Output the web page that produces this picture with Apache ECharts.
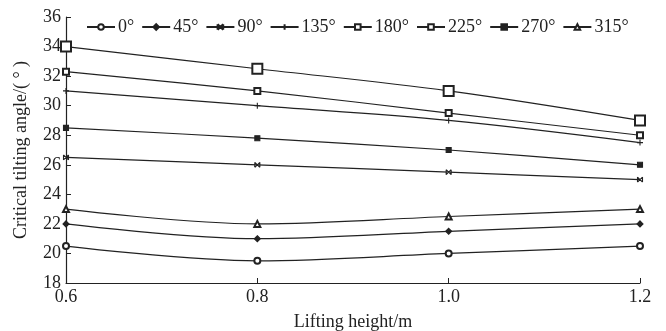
<!DOCTYPE html>
<html>
<head>
<meta charset="utf-8">
<script src="https://cdn.jsdelivr.net/npm/echarts@6/dist/echarts.min.js"></script>
<style>
  html, body { margin: 0; padding: 0; background: #fff; }
  #chart { width: 666px; height: 331px; }
</style>
</head>
<body>
<div id="chart"></div>
<script>
const heights = ['0.6', '0.8', '1.0', '1.2']
const names = ['0°', '45°', '90°', '135°', '180°', '225°', '270°', '315°']
const deg0 = [20.5, 19.5, 20.0, 20.5]
const deg45 = [22.0, 21.0, 21.5, 22.0]
const deg90 = [26.5, 26.0, 25.5, 25.0]
const deg135 = [31.0, 30.0, 29.0, 27.5]
const deg180 = [34.0, 32.5, 31.0, 29.0]
const deg225 = [32.3, 31.0, 29.5, 28.0]
const deg270 = [28.5, 27.8, 27.0, 26.0]
const deg315 = [23.0, 22.0, 22.5, 23.0]

const font = 'Liberation Serif, Times New Roman, serif'
const crossPath = 'path://M0,0L10,10M10,0L0,10M0,0L0,10M10,0L10,10'
const plusPath = 'path://M5,0L5,10M0,5L10,5'

const lineSeries = (name, data, symbol, size) => ({
  name: name,
  type: 'line',
  data: data,
  smooth: 0.35,
  symbol: symbol,
  symbolSize: size,
  showAllSymbol: true,
  lineStyle: { color: '#222', width: 1.2 },
  itemStyle: { color: '#222', borderColor: '#222', borderWidth: 1.1 }
})

const chart = echarts.init(document.getElementById('chart'))
chart.setOption({
  animation: false,
  textStyle: { fontFamily: font },
  legend: {
    top: 13,
    left: 81,
    itemWidth: 28,
    itemHeight: 7,
    itemGap: 7,
    textStyle: { fontFamily: font, fontSize: 18, color: '#222', padding: [0, 0, 0, -2] },
    data: names
  },
  grid: { left: 66, right: 26, top: 17, bottom: 48, outerBoundsMode: 'none' },
  xAxis: {
    type: 'category',
    data: heights,
    boundaryGap: false,
    name: 'Lifting height/m',
    nameLocation: 'middle',
    nameGap: 30,
    nameTextStyle: { fontFamily: font, fontSize: 18, color: '#222' },
    axisLine: { lineStyle: { color: '#222', width: 1.2 } },
    axisTick: { inside: true, length: 5, lineStyle: { color: '#222' } },
    axisLabel: { fontFamily: font, fontSize: 18, color: '#222', margin: 5 },
    splitLine: { show: false }
  },
  yAxis: {
    type: 'value',
    min: 18,
    max: 36,
    interval: 2,
    name: 'Critical tilting angle/( ° )',
    nameLocation: 'middle',
    nameGap: 36,
    nameRotate: 90,
    nameTextStyle: { fontFamily: font, fontSize: 18, color: '#222' },
    axisLine: { show: true, lineStyle: { color: '#222', width: 1.2 } },
    axisTick: { show: true, inside: true, length: 5, lineStyle: { color: '#222' } },
    axisLabel: { fontFamily: font, fontSize: 18, color: '#222', margin: 5 },
    splitLine: { show: false }
  },
  series: [
    lineSeries(names[0], deg0, 'emptyCircle', 6),
    lineSeries(names[1], deg45, 'diamond', 6),
    lineSeries(names[2], deg90, crossPath, 5),
    lineSeries(names[3], deg135, plusPath, 6),
    lineSeries(names[4], deg180, 'emptyRect', 10),
    lineSeries(names[5], deg225, 'emptyRect', 6),
    lineSeries(names[6], deg270, 'rect', 5),
    lineSeries(names[7], deg315, 'emptyTriangle', 6)
  ]
})
</script>
</body>
</html>
